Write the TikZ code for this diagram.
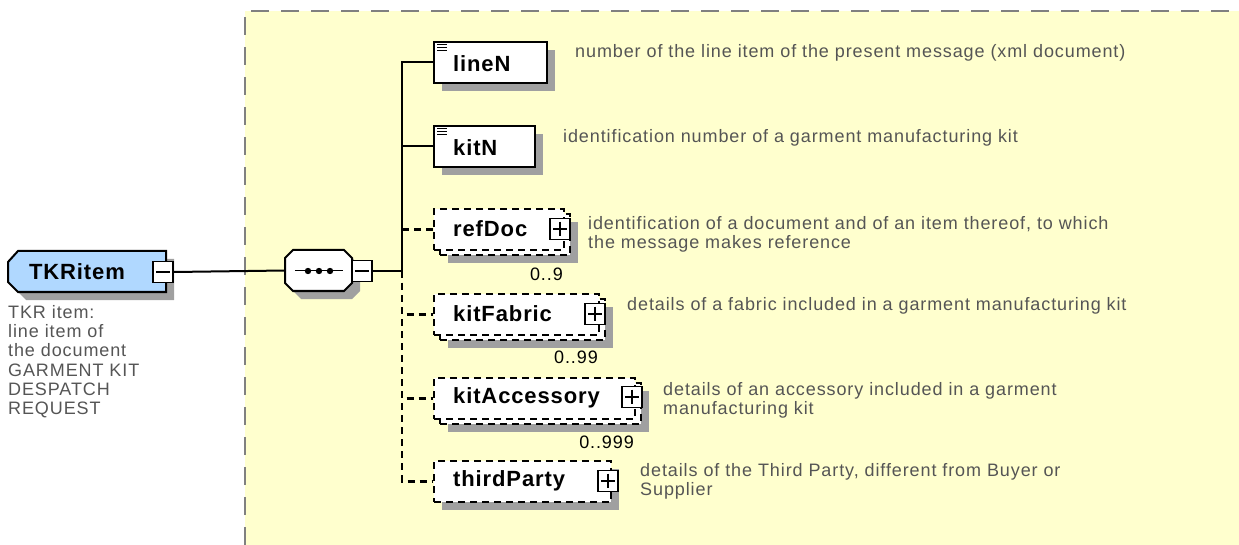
\documentclass[tikz,border=0pt]{standalone}
\usepackage{fontspec}
\setmainfont{Liberation Sans}
\newfontfamily\descfont[LetterSpace=5]{Liberation Sans}
\newfontfamily\lblfont[LetterSpace=4]{Liberation Sans}
\usetikzlibrary{shadows,calc}
\definecolor{bgyellow}{RGB}{255,255,206}
\definecolor{elemblue}{RGB}{176,216,255}
\definecolor{shadowgray}{RGB}{160,160,160}
\definecolor{desctext}{RGB}{85,85,85}
\definecolor{bordergray}{RGB}{128,128,128}
\begin{document}
\begin{tikzpicture}[x=1pt,y=-1pt,
 shadowed/.style={drop shadow={shadow xshift=8pt,shadow yshift=-8pt,opacity=1,fill=shadowgray}},
 elembox/.style={draw=black,fill=white,line width=2pt,rectangle,minimum height=41pt,inner sep=0pt,anchor=north west},
 optbox/.style={elembox,dash pattern=on 7pt off 5pt},
 toggle/.style={draw=black,fill=white,line width=1.6pt,rectangle,minimum width=20pt,minimum height=21pt,inner sep=0pt},
 lbl/.style={font=\fontsize{22}{24}\lblfont\bfseries,anchor=west,inner sep=0pt},
 desc/.style={font=\fontsize{18}{19.3}\descfont,text=desctext,anchor=west,align=left,inner sep=0pt},
 card/.style={font=\fontsize{18}{19.3}\descfont,anchor=east,inner sep=0pt},
 conn/.style={line width=2pt},
 optconn/.style={line width=2.2pt,dash pattern=on 7pt off 5pt},
 sign/.style={line width=1.4pt},
 outline/.style={draw=black,line width=2pt,line join=miter},
]
\useasboundingbox (0,0) rectangle (1239,545);
% background region
\fill[bgyellow] (245,11) rectangle (1239,545);
\draw[bordergray,line width=2.5pt,dash pattern=on 18pt off 12pt] (245,545) -- (245,11) -- (1239,11);

% root element
\node[rectangle,minimum width=158pt,minimum height=41pt,inner sep=0pt] (tkr) at (87,271.5) {};
\fill[shadowgray,shift={(8,8)}] (8,262) -- (18,251) -- (166,251) -- (166,292) -- (18,292) -- (8,282) -- cycle;
\filldraw[outline,fill=elemblue] (8,262) -- (18,251) -- (166,251) -- (166,292) -- (18,292) -- (8,282) -- cycle;
\node[font=\fontsize{22}{24}\lblfont\bfseries,inner sep=0pt] (tkrt) at (77,272) {TKRitem};
\node[toggle] (tkrm) at (163,272) {};
\draw[sign] ([xshift=4pt]tkrm.west) -- ([xshift=-4pt]tkrm.east);
\node[desc,anchor=north west] (tkrd) at (8,305) {TKR item:\\line item of\\the document\\GARMENT KIT\\DESPATCH\\REQUEST};

% sequence compositor
\node[rectangle,minimum width=67pt,minimum height=41pt,inner sep=0pt] (seq) at (318.5,270.5) {};
\fill[shadowgray,shift={(8,8)}] (285,258) -- (293,250) -- (344,250) -- (352,258) -- (352,283) -- (344,291) -- (293,291) -- (285,283) -- cycle;
\filldraw[outline,fill=white] (285,258) -- (293,250) -- (344,250) -- (352,258) -- (352,283) -- (344,291) -- (293,291) -- (285,283) -- cycle;
\draw[line width=1.6pt] ([xshift=10pt]seq.west) -- ([xshift=-9pt]seq.east);
\foreach \dx in {308,319,330} \fill (\dx,271) circle (3.2pt);
\node[toggle] (seqm) at (362,271) {};
\draw[sign] ([xshift=4pt]seqm.west) -- ([xshift=-4pt]seqm.east);

\draw[conn] (tkrm.east) -- (seq.west);
\coordinate (bus) at (402,271);
\draw[conn] (seqm.east) -- (bus);

% lineN
\node[elembox,minimum width=113pt,shadowed] (lineN) at (433,41) {};
\node[lbl] (lineNt) at (453,64) {lineN};
\foreach \dy in {4,7,10} \draw[line width=1pt] ([shift={(4,\dy)}]lineN.north west) -- ++(10,0);
\node[desc] (lineNd) at (575,53) {number of the line item of the present message (xml document)};

% kitN
\node[elembox,minimum width=101pt,shadowed] (kitN) at (433,125) {};
\node[lbl] (kitNt) at (453,148) {kitN};
\foreach \dy in {4,7,10} \draw[line width=1pt] ([shift={(4,\dy)}]kitN.north west) -- ++(10,0);
\node[desc] (kitNd) at (563,138) {identification number of a garment manufacturing kit};

% refDoc
\node[optbox,minimum width=130pt,shadowed] (refDocb) at (439,213) {};
\node[optbox,minimum width=130pt] (refDoc) at (433,208) {};
\node[lbl] (refDoct) at (453,229) {refDoc};
\node[toggle] (refDocp) at (560,229) {};
\draw[sign] ([xshift=4pt]refDocp.west) -- ([xshift=-4pt]refDocp.east) ([yshift=-4pt]refDocp.north) -- ([yshift=4pt]refDocp.south);
\node[card] (refDocc) at (563,274) {0..9};
\node[desc] (refDocd) at (588,234) {identification of a document and of an item thereof, to which\\the message makes reference};

% kitFabric
\node[optbox,minimum width=165pt,shadowed] (kitFabricb) at (439,298) {};
\node[optbox,minimum width=165pt] (kitFabric) at (433,293) {};
\node[lbl] (kitFabrict) at (453,314) {kitFabric};
\node[toggle] (kitFabricp) at (595,314) {};
\draw[sign] ([xshift=4pt]kitFabricp.west) -- ([xshift=-4pt]kitFabricp.east) ([yshift=-4pt]kitFabricp.north) -- ([yshift=4pt]kitFabricp.south);
\node[card] (kitFabricc) at (598,357) {0..99};
\node[desc] (kitFabricd) at (627,306) {details of a fabric included in a garment manufacturing kit};

% kitAccessory
\node[optbox,minimum width=201pt,shadowed] (kitAccessoryb) at (439,382) {};
\node[optbox,minimum width=201pt] (kitAccessory) at (433,377) {};
\node[lbl] (kitAccessoryt) at (453,398) {kitAccessory};
\node[toggle] (kitAccessoryp) at (632,397) {};
\draw[sign] ([xshift=4pt]kitAccessoryp.west) -- ([xshift=-4pt]kitAccessoryp.east) ([yshift=-4pt]kitAccessoryp.north) -- ([yshift=4pt]kitAccessoryp.south);
\node[card] (kitAccessoryc) at (634,442) {0..999};
\node[desc] (kitAccessoryd) at (663,400) {details of an accessory included in a garment\\manufacturing kit};

% thirdParty
\node[optbox,minimum width=177pt,shadowed] (thirdParty) at (433,460) {};
\node[lbl] (thirdPartyt) at (453,481) {thirdParty};
\node[toggle] (thirdPartyp) at (608,481) {};
\draw[sign] ([xshift=4pt]thirdPartyp.west) -- ([xshift=-4pt]thirdPartyp.east) ([yshift=-4pt]thirdPartyp.north) -- ([yshift=4pt]thirdPartyp.south);
\node[desc] (thirdPartyd) at (640,481) {details of the Third Party, different from Buyer or\\Supplier};

% connectors
\draw[conn] (bus) |- (lineN.west);
\draw[conn] (bus) |- (kitN.west);
\draw[optconn] (bus |- refDoc.west) -- (refDoc.west);
\draw[optconn] (bus) |- (kitFabric.west);
\draw[optconn] (bus) |- (kitAccessory.west);
\draw[optconn] (bus) |- (thirdParty.west);
\end{tikzpicture}
\end{document}
